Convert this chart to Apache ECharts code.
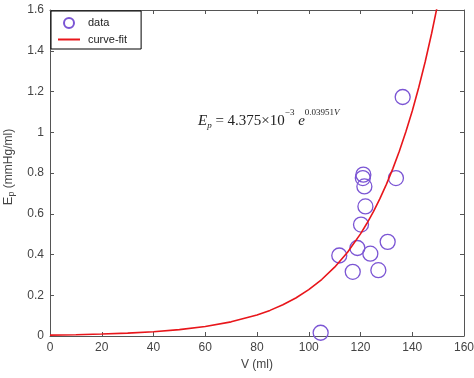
<!DOCTYPE html>
<html>
<head>
<meta charset="utf-8">
<script src="https://cdn.jsdelivr.net/npm/echarts@6/dist/echarts.min.js"></script>
<style>
  html, body { margin: 0; padding: 0; background: #fff; }
  #chart { width: 474px; height: 378px; }
</style>
</head>
<body>
<div id="chart"></div>
<script>
// measured points
const dataV = [104.6, 121.1, 120.9, 121.5, 121.9, 120.2, 118.8, 111.8, 123.8, 130.5, 117.0, 126.9, 133.7, 136.3];
const dataEp = [0.016, 0.792, 0.775, 0.734, 0.636, 0.547, 0.432, 0.395, 0.404, 0.462, 0.315, 0.323, 0.775, 1.173];

// fitted curve
const curveV = [0, 10, 20, 30, 40, 50, 60, 70, 80, 85, 90, 95, 100, 105, 110, 115, 120, 122.5, 125, 127.5, 130,
  132.5, 135, 137.5, 140, 142.5, 145, 147.5, 150];
const curveEp = [0.0044, 0.0065, 0.0096, 0.0143, 0.0212, 0.0315, 0.0468, 0.0695, 0.1032, 0.1257, 0.1532, 0.1866,
  0.2274, 0.2771, 0.3377, 0.4114, 0.5013, 0.5533, 0.6108, 0.6742, 0.7443, 0.8216, 0.9066, 1.0008, 1.1047,
  1.2194, 1.346, 1.4858, 1.639];

const xTicks = { min: 0, max: 160, interval: 20 };
const yTicks = { min: 0, max: 1.6, interval: 0.2 };

const frameColor = "#555";
const labelColor = "#444";
const font = "Liberation Sans";
const serif = "Liberation Serif";

const makeAxis = (t, pos, showLabel, name, extra) => ({
  type: "value",
  position: pos,
  min: t.min,
  max: t.max,
  interval: t.interval,
  axisLine: { show: true, onZero: false, lineStyle: { color: frameColor, width: 1 } },
  axisTick: { show: true, inside: true, length: 4, lineStyle: { color: frameColor } },
  axisLabel: { show: showLabel, color: labelColor, fontFamily: font, fontSize: 12, margin: 6 },
  splitLine: { show: false },
  name: name,
  ...extra,
});

const chart = echarts.init(document.getElementById("chart"));
chart.setOption({
  animation: false,
  backgroundColor: "#fff",
  grid: { left: 50, right: 10, top: 10, bottom: 42, outerBoundsMode: "none" },
  legend: {
    orient: "vertical",
    left: 51,
    top: 11,
    padding: [6, 14, 4, 7],
    itemGap: 5,
    itemWidth: 22,
    itemHeight: 10,
    borderColor: "#000",
    borderWidth: 1,
    backgroundColor: "#fff",
    textStyle: { color: "#222", fontFamily: font, fontSize: 11, padding: [0, 0, 0, 3] },
    data: [
      { name: "data" },
      { name: "curve-fit", icon: "path://M0,0H22V2H0Z" },
    ],
  },
  xAxis: [
    makeAxis(xTicks, "bottom", true, "V (ml)", {
      nameLocation: "middle",
      nameGap: 22,
      nameTextStyle: { color: labelColor, fontFamily: font, fontSize: 12 },
    }),
    makeAxis(xTicks, "top", false, "", {}),
  ],
  yAxis: [
    makeAxis(yTicks, "left", true, "{e|E}{p|p} {u|(mmHg/ml)}", {
      nameLocation: "middle",
      nameGap: 34,
      nameRotate: 90,
      nameTextStyle: {
        color: labelColor,
        fontFamily: font,
        padding: [0, 0, 0, 12],
        rich: {
          e: { fontFamily: font, fontSize: 13, color: labelColor, lineHeight: 13 },
          p: { fontFamily: font, fontSize: 9, color: labelColor, lineHeight: 9, padding: [6, 0, 0, 0] },
          u: { fontFamily: font, fontSize: 12, color: labelColor, lineHeight: 13 },
        },
      },
    }),
    makeAxis(yTicks, "right", false, "", {}),
  ],
  graphic: [
    {
      type: "text",
      left: 198,
      top: 108,
      style: {
        text: "{i|E}{s|p}{n| = 4.375×10}{u|−3}{i| e}{u|0.03951}{ui|V}",
        fill: "#222",
        rich: {
          i: { fontFamily: serif, fontStyle: "italic", fontSize: 15, lineHeight: 15, fill: "#222" },
          n: { fontFamily: serif, fontSize: 15, lineHeight: 15, fill: "#222" },
          s: { fontFamily: serif, fontStyle: "italic", fontSize: 9, lineHeight: 9, padding: [9, 0, 0, 0], fill: "#222" },
          u: { fontFamily: serif, fontSize: 9, lineHeight: 9, padding: [0, 0, 18, 0], fill: "#222" },
          ui: { fontFamily: serif, fontStyle: "italic", fontSize: 9, lineHeight: 9, padding: [0, 0, 18, 0], fill: "#222" },
        },
      },
    },
  ],
  series: [
    {
      name: "data",
      type: "scatter",
      symbol: "circle",
      symbolSize: 15,
      itemStyle: { color: "transparent", borderColor: "#7b55d4", borderWidth: 1.3, opacity: 1 },
      data: dataV.map((v, i) => [v, dataEp[i]]),
      z: 3,
    },
    {
      name: "curve-fit",
      type: "line",
      symbol: "none",
      clip: true,
      lineStyle: { color: "#e8161b", width: 1.6 },
      itemStyle: { color: "#e8161b" },
      data: curveV.map((v, i) => [v, curveEp[i]]),
      z: 4,
    },
  ],
});
</script>
</body>
</html>
